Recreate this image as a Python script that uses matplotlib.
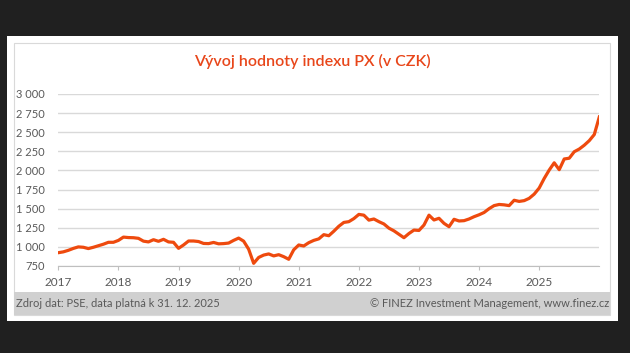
import numpy as np
import matplotlib.pyplot as plt
from matplotlib.patches import Rectangle
from matplotlib.ticker import FuncFormatter

# month-end values of the PX index, Dec 2016 .. Dec 2025
px_values = [
    924, 935, 955, 980, 1000, 995, 978, 995, 1015, 1035, 1060, 1060,
    1085, 1128, 1122, 1120, 1112, 1075, 1065, 1094, 1073, 1099, 1065, 1060,
    981, 1025, 1077, 1077, 1070, 1045, 1043, 1058, 1040, 1043, 1050, 1085,
    1115, 1075, 970, 785, 862, 893, 908, 882, 898, 872, 838, 962,
    1025, 1012, 1055, 1085, 1105, 1160, 1146, 1205, 1270, 1320, 1330, 1370,
    1425, 1415, 1350, 1365, 1330, 1300, 1245, 1210, 1165, 1120, 1175, 1220,
    1215, 1286, 1415, 1352, 1374, 1308, 1264, 1361, 1339, 1343, 1365, 1395,
    1420, 1450, 1500, 1540, 1555, 1550, 1540, 1610, 1595, 1605, 1635, 1690,
    1770, 1895, 2005, 2100, 2010, 2150, 2160, 2245, 2280, 2330, 2390, 2470,
    2700,
]
start_year = 2017
years = [2017, 2018, 2019, 2020, 2021, 2022, 2023, 2024, 2025]
y_ticks = [750, 1000, 1250, 1500, 1750, 2000, 2250, 2500, 2750, 3000]

title = "Vývoj hodnoty indexu PX (v CZK)"
source_text = "Zdroj dat: PSE, data platná k 31. 12. 2025"
credit_text = "© FINEZ Investment Management, www.finez.cz"

plt.rcParams['font.family'] = ['Lato', 'DejaVu Sans']

W, H = 630, 353
fig = plt.figure(figsize=(W / 100, H / 100), dpi=100)
fig.patch.set_facecolor('#202020')


def fx(px):
    return px / W


def fy(py):
    return 1 - py / H


# white card, inner border, footer band (kept below the axes)
fig.patches.append(Rectangle((fx(7), fy(321)), fx(611), 285 / H, transform=fig.transFigure,
                             facecolor='white', edgecolor='none', zorder=-3))
fig.patches.append(Rectangle((fx(14), fy(315)), fx(596), 272 / H, transform=fig.transFigure,
                             facecolor='none', edgecolor='#d9d9d9', lw=0.8, zorder=-2))
fig.patches.append(Rectangle((fx(14), fy(315)), fx(596), 23 / H, transform=fig.transFigure,
                             facecolor='#d0d0d0', edgecolor='none', zorder=-1))

ax = fig.add_axes([fx(58.3), fy(266), fx(541), 172 / H])
ax.set_facecolor('none')

x = start_year + np.arange(len(px_values)) / 12
ax.plot(x, px_values, color='#ee4a0e', lw=2.3, solid_joinstyle='round', zorder=3)

ax.set_xlim(start_year, start_year + 9)
ax.set_ylim(750, 3000)
ax.set_yticks(y_ticks)
ax.set_xticks(years)
ax.yaxis.set_major_formatter(FuncFormatter(lambda v, p: f"{int(v):,}".replace(",", " ")))
ax.grid(axis='y', color='#d9d9d9', lw=1)
ax.set_axisbelow(True)
for s in ['top', 'right', 'left']:
    ax.spines[s].set_visible(False)
ax.spines['bottom'].set_color('#bfbfbf')
ax.tick_params(axis='y', length=0, pad=10, labelsize=8, labelcolor='#595959')
ax.tick_params(axis='x', length=3, color='#bfbfbf', pad=5, labelsize=8.5, labelcolor='#595959')

fig.text(fx(312), fy(61), title, ha='center', va='center', fontsize=11.5,
         color='#e8461a', fontweight='semibold')
fig.text(fx(16), fy(303.5), source_text, ha='left', va='center', fontsize=8, color='#595959')
fig.text(fx(609), fy(303.5), credit_text, ha='right', va='center', fontsize=8, color='#595959')

fig.savefig('out.png', dpi=100, facecolor=fig.get_facecolor())
